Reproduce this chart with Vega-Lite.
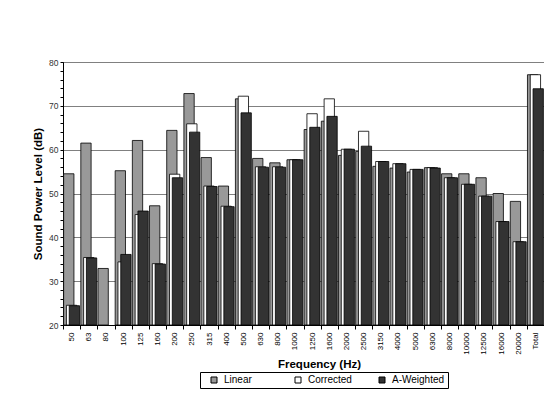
{
  "$schema": "https://vega.github.io/schema/vega-lite/v6.json",
  "autosize": "none",
  "width": 481,
  "height": 263,
  "padding": {"left": 63, "top": 62, "right": 0, "bottom": 69},
  "background": "white",
  "config": {
    "font": "Liberation Sans",
    "view": {"stroke": "black", "strokeWidth": 1},
    "axis": {"domainColor": "black", "tickColor": "black", "labelColor": "black", "titleColor": "black"}
  },
  "data": {"values": [
    {"f": "50", "s": "Linear", "v": 54.5}, {"f": "50", "s": "Corrected", "v": 24.5}, {"f": "50", "s": "A-Weighted", "v": 24.4},
    {"f": "63", "s": "Linear", "v": 61.5}, {"f": "63", "s": "Corrected", "v": 35.4}, {"f": "63", "s": "A-Weighted", "v": 35.3},
    {"f": "80", "s": "Linear", "v": 32.9},
    {"f": "100", "s": "Linear", "v": 55.2}, {"f": "100", "s": "Corrected", "v": 34.4}, {"f": "100", "s": "A-Weighted", "v": 36.1},
    {"f": "125", "s": "Linear", "v": 62.1}, {"f": "125", "s": "Corrected", "v": 45.2}, {"f": "125", "s": "A-Weighted", "v": 46.0},
    {"f": "160", "s": "Linear", "v": 47.2}, {"f": "160", "s": "Corrected", "v": 34.0}, {"f": "160", "s": "A-Weighted", "v": 33.9},
    {"f": "200", "s": "Linear", "v": 64.4}, {"f": "200", "s": "Corrected", "v": 54.4}, {"f": "200", "s": "A-Weighted", "v": 53.6},
    {"f": "250", "s": "Linear", "v": 72.8}, {"f": "250", "s": "Corrected", "v": 65.9}, {"f": "250", "s": "A-Weighted", "v": 64.0},
    {"f": "315", "s": "Linear", "v": 58.2}, {"f": "315", "s": "Corrected", "v": 51.7}, {"f": "315", "s": "A-Weighted", "v": 51.6},
    {"f": "400", "s": "Linear", "v": 51.7}, {"f": "400", "s": "Corrected", "v": 47.1}, {"f": "400", "s": "A-Weighted", "v": 47.0},
    {"f": "500", "s": "Linear", "v": 71.6}, {"f": "500", "s": "Corrected", "v": 72.2}, {"f": "500", "s": "A-Weighted", "v": 68.4},
    {"f": "630", "s": "Linear", "v": 58.0}, {"f": "630", "s": "Corrected", "v": 56.1}, {"f": "630", "s": "A-Weighted", "v": 56.0},
    {"f": "800", "s": "Linear", "v": 57.0}, {"f": "800", "s": "Corrected", "v": 56.1}, {"f": "800", "s": "A-Weighted", "v": 56.0},
    {"f": "1000", "s": "Linear", "v": 57.7}, {"f": "1000", "s": "Corrected", "v": 57.7}, {"f": "1000", "s": "A-Weighted", "v": 57.7},
    {"f": "1250", "s": "Linear", "v": 64.6}, {"f": "1250", "s": "Corrected", "v": 68.2}, {"f": "1250", "s": "A-Weighted", "v": 65.1},
    {"f": "1600", "s": "Linear", "v": 66.5}, {"f": "1600", "s": "Corrected", "v": 71.6}, {"f": "1600", "s": "A-Weighted", "v": 67.6},
    {"f": "2000", "s": "Linear", "v": 58.7}, {"f": "2000", "s": "Corrected", "v": 60.1}, {"f": "2000", "s": "A-Weighted", "v": 60.1},
    {"f": "2500", "s": "Linear", "v": 59.6}, {"f": "2500", "s": "Corrected", "v": 64.2}, {"f": "2500", "s": "A-Weighted", "v": 60.8},
    {"f": "3150", "s": "Linear", "v": 56.2}, {"f": "3150", "s": "Corrected", "v": 57.3}, {"f": "3150", "s": "A-Weighted", "v": 57.3},
    {"f": "4000", "s": "Linear", "v": 55.8}, {"f": "4000", "s": "Corrected", "v": 56.8}, {"f": "4000", "s": "A-Weighted", "v": 56.8},
    {"f": "5000", "s": "Linear", "v": 54.9}, {"f": "5000", "s": "Corrected", "v": 55.5}, {"f": "5000", "s": "A-Weighted", "v": 55.5},
    {"f": "6300", "s": "Linear", "v": 55.9}, {"f": "6300", "s": "Corrected", "v": 55.9}, {"f": "6300", "s": "A-Weighted", "v": 55.8},
    {"f": "8000", "s": "Linear", "v": 54.5}, {"f": "8000", "s": "Corrected", "v": 53.6}, {"f": "8000", "s": "A-Weighted", "v": 53.6},
    {"f": "10000", "s": "Linear", "v": 54.5}, {"f": "10000", "s": "Corrected", "v": 52.1}, {"f": "10000", "s": "A-Weighted", "v": 52.1},
    {"f": "12500", "s": "Linear", "v": 53.6}, {"f": "12500", "s": "Corrected", "v": 49.4}, {"f": "12500", "s": "A-Weighted", "v": 49.4},
    {"f": "16000", "s": "Linear", "v": 50.0}, {"f": "16000", "s": "Corrected", "v": 43.6}, {"f": "16000", "s": "A-Weighted", "v": 43.6},
    {"f": "20000", "s": "Linear", "v": 48.2}, {"f": "20000", "s": "Corrected", "v": 39.0}, {"f": "20000", "s": "A-Weighted", "v": 39.0},
    {"f": "Total", "s": "Linear", "v": 77.1}, {"f": "Total", "s": "Corrected", "v": 77.1}, {"f": "Total", "s": "A-Weighted", "v": 73.9}
  ]},
  "encoding": {
    "x": {
      "field": "f", "type": "nominal",
      "sort": ["50","63","80","100","125","160","200","250","315","400","500","630","800","1000","1250","1600","2000","2500","3150","4000","5000","6300","8000","10000","12500","16000","20000","Total"],
      "scale": {"paddingInner": 0, "paddingOuter": 0},
      "axis": {
        "title": "Frequency (Hz)", "titleFontSize": 11.5, "titleFontWeight": "bold", "titlePadding": 4, "titleX": 256,
        "labelAngle": 270, "labelFontSize": 8, "labelPadding": 3, "tickBand": "extent", "tickSize": 4, "grid": false
      }
    },
    "y": {
      "field": "v", "type": "quantitative",
      "scale": {"domain": [20, 80], "zero": false, "nice": false},
      "axis": {
        "title": "Sound Power Level (dB)", "titleFontSize": 11.5, "titleFontWeight": "bold", "titlePadding": 5,
        "values": [20,22,24,26,28,30,32,34,36,38,40,42,44,46,48,50,52,54,56,58,60,62,64,66,68,70,72,74,76,78,80],
        "labelExpr": "datum.value % 10 === 0 ? datum.label : ''",
        "labelFontSize": 8.5, "labelColor": "#333333", "labelPadding": 2,
        "grid": true, "gridColor": "#808080", "gridWidth": 1,
        "gridOpacity": {"condition": {"test": "datum.value % 10 === 0", "value": 1}, "value": 0},
        "tickSize": 3
      }
    },
    "y2": {"datum": 20},
    "color": {
      "field": "s", "type": "nominal",
      "scale": {"domain": ["Linear", "Corrected", "A-Weighted"], "range": ["#999999", "#ffffff", "#333333"]},
      "legend": {
        "title": null, "orient": "none", "legendX": 137, "legendY": 310, "direction": "horizontal",
        "strokeColor": "black", "padding": 3, "symbolType": "square", "symbolSize": 36, "symbolOffset": 6,
        "symbolStrokeColor": "black", "symbolStrokeWidth": 1, "labelFontSize": 10, "labelColor": "black",
        "gridAlign": "all", "columnPadding": 10, "labelOffset": 5
      }
    }
  },
  "layer": [
    {"transform": [{"filter": "datum.s === 'Linear'"}], "mark": {"type": "bar", "width": {"band": 0.6}, "xOffset": -2.8, "stroke": "black", "strokeWidth": 0.8}},
    {"transform": [{"filter": "datum.s === 'Corrected'"}], "mark": {"type": "bar", "width": {"band": 0.6}, "xOffset": 0, "stroke": "black", "strokeWidth": 0.8}},
    {"transform": [{"filter": "datum.s === 'A-Weighted'"}], "mark": {"type": "bar", "width": {"band": 0.6}, "xOffset": 2.8, "stroke": "black", "strokeWidth": 0.8}}
  ]
}
